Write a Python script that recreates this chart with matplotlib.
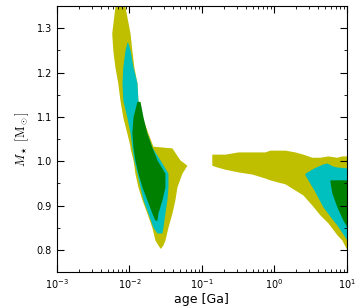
import numpy as np
import matplotlib
matplotlib.use("Agg")
import matplotlib.pyplot as plt

plt.rcParams['mathtext.fontset'] = 'cm'

# young branch: age limits (Ga) per stellar mass
young_mass_y = [1.36, 1.348, 1.289, 1.251, 1.213, 1.177, 1.138, 1.100, 1.064, 1.034, 1.030,
                1.003, 0.991, 0.973, 0.942, 0.913, 0.883, 0.851, 0.822, 0.811, 0.804]
young_lo_y = [0.0063, 0.0063, 0.0057, 0.0059, 0.0063, 0.0069, 0.0074, 0.0081, 0.0092, 0.0102, 0.0102,
              0.0112, 0.0115, 0.0119, 0.0131, 0.0149, 0.0174, 0.0204, 0.0225, 0.0247, 0.0264]
young_hi_y = [0.0087, 0.0087, 0.0102, 0.0108, 0.0115, 0.0127, 0.0131, 0.0149, 0.0180, 0.0211, 0.0386,
              0.0497, 0.0621, 0.0530, 0.0452, 0.0424, 0.0386, 0.0340, 0.0309, 0.0290, 0.0270]

young_mass_c = [1.268, 1.251, 1.213, 1.177, 1.138, 1.100, 1.064, 1.032, 1.003, 0.973, 0.942, 0.913, 0.883, 0.851, 0.838]
young_lo_c = [0.0092, 0.0087, 0.0081, 0.0079, 0.0081, 0.0092, 0.0102, 0.0108, 0.0115, 0.0127, 0.0140, 0.0154, 0.0180, 0.0211, 0.0240]
young_hi_c = [0.0095, 0.0102, 0.0112, 0.0127, 0.0131, 0.0149, 0.0174, 0.0204, 0.0264, 0.0340, 0.0340, 0.0329, 0.0309, 0.0290, 0.0281]

young_mass_g = [1.135, 1.100, 1.064, 1.032, 1.003, 0.973, 0.942, 0.913, 0.883, 0.867]
young_lo_g = [0.0127, 0.0112, 0.0108, 0.0112, 0.0119, 0.0131, 0.0149, 0.0174, 0.0204, 0.0225]
young_hi_g = [0.0140, 0.0154, 0.0174, 0.0204, 0.0240, 0.0309, 0.0309, 0.0281, 0.0247, 0.0240]

# old branch: mass limits per age (Ga)
old_age_y = [0.137, 0.161, 0.208, 0.314, 0.490, 0.592, 0.739, 0.867, 1.12, 1.40, 1.92, 2.47, 3.29, 4.24, 5.47, 7.28, 8.53, 10.0]
old_top_y = [1.016, 1.016, 1.016, 1.021, 1.021, 1.021, 1.021, 1.025, 1.025, 1.025, 1.021, 1.016, 1.009, 1.009, 1.012, 1.009, 1.012, 1.012]
old_bot_y = [0.991, 0.987, 0.982, 0.976, 0.971, 0.967, 0.962, 0.958, 0.953, 0.949, 0.935, 0.924, 0.901, 0.879, 0.861, 0.834, 0.822, 0.800]

old_age_c = [2.64, 3.51, 4.67, 5.30, 6.41, 7.28, 10.0]
old_top_c = [0.973, 0.985, 0.994, 0.996, 0.989, 0.987, 0.985]
old_bot_c = [0.969, 0.935, 0.897, 0.885, 0.867, 0.856, 0.822]

old_age_g = [5.83, 6.21, 7.28, 8.81, 10.0]
old_top_g = [0.958, 0.958, 0.958, 0.958, 0.958]
old_bot_g = [0.955, 0.928, 0.897, 0.867, 0.852]

fig = plt.figure(figsize=(3.58, 3.07), dpi=100)
ax = fig.add_axes([0.159, 0.114, 0.810, 0.866])

for m, lo, hi, col in [(young_mass_y, young_lo_y, young_hi_y, 'y'),
                       (young_mass_c, young_lo_c, young_hi_c, 'c'),
                       (young_mass_g, young_lo_g, young_hi_g, 'g')]:
    ax.fill_betweenx(m, lo, hi, color=col, lw=0)

for a, top, bot, col in [(old_age_y, old_top_y, old_bot_y, 'y'),
                         (old_age_c, old_top_c, old_bot_c, 'c'),
                         (old_age_g, old_top_g, old_bot_g, 'g')]:
    ax.fill_between(a, bot, top, color=col, lw=0)

ax.set_xscale('log')
ax.set_xlim(1e-3, 1e1)
ax.set_ylim(0.75, 1.35)
ax.set_yticks([0.8, 0.9, 1.0, 1.1, 1.2, 1.3])
ax.set_yticks(np.arange(0.75, 1.351, 0.05), minor=True)
ax.tick_params(which='both', direction='in', top=True, right=True, labelsize=7)
ax.tick_params(which='major', length=5)
ax.tick_params(which='minor', length=2.5)
ax.set_xlabel('age [Ga]', fontsize=9, labelpad=2)
ax.set_ylabel(r'$M_\star\ [\mathrm{M}_\odot]$', fontsize=9)

fig.savefig('out.png', dpi=100)
